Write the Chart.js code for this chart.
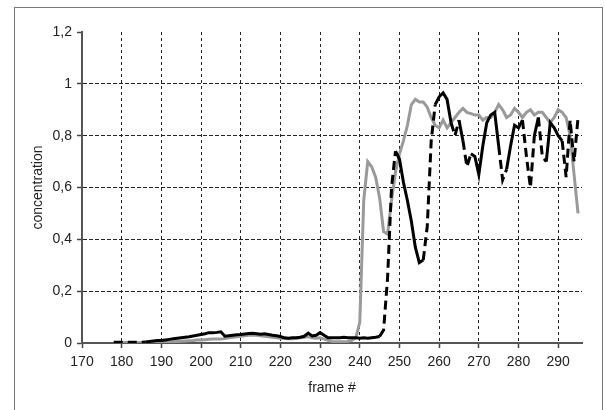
<!DOCTYPE html>
<html>
<head>
<meta charset="utf-8">
<script src="https://cdn.jsdelivr.net/npm/chart.js@4.4.0/dist/chart.umd.min.js"></script>
<style>
    html, body { margin: 0; padding: 0; background: #fff; }
    #frame { position: absolute; left: 14px; top: 7px; width: 587px; height: 420px; border: 1px solid #777; }
    #wrap { position: absolute; left: 0; top: 0; width: 605px; height: 410px; }
</style>
</head>
<body>
<div id="frame"></div>
<div id="wrap"><canvas id="myChart" width="605" height="410"></canvas></div>
<script>
// frame numbers (x axis)
const frames = [
    178, 179, 180, 181, 182, 183, 184, 185, 186, 187, 188, 189,
    190, 191, 192, 193, 194, 195, 196, 197, 198, 199,
    200, 201, 202, 203, 204, 205, 206, 207, 208, 209,
    210, 211, 212, 213, 214, 215, 216, 217, 218, 219,
    220, 221, 222, 223, 224, 225, 226, 227, 228, 229,
    230, 231, 232, 233, 234, 235, 236, 237, 238, 239,
    240, 241, 242, 243, 244, 245, 246, 247, 248, 249,
    250, 251, 252, 253, 254, 255, 256, 257, 258, 259,
    260, 261, 262, 263, 264, 265, 266, 267, 268, 269,
    270, 271, 272, 273, 274, 275, 276, 277, 278, 279,
    280, 281, 282, 283, 284, 285, 286, 287, 288, 289,
    290, 291, 292, 293, 294, 295
];

// black curve
const blackValues = [
    0.003, 0.003, 0.003, 0.003, 0.003, 0.003, 0.003, 0.003, 0.004, 0.006, 0.008, 0.01,
    0.01, 0.012, 0.014, 0.016, 0.018, 0.02, 0.022, 0.024, 0.027, 0.03,
    0.033, 0.036, 0.04, 0.04, 0.041, 0.043, 0.026, 0.028, 0.03, 0.032,
    0.033, 0.035, 0.037, 0.038, 0.036, 0.034, 0.036, 0.033, 0.03, 0.028,
    0.025, 0.02, 0.018, 0.02, 0.02, 0.022, 0.026, 0.038, 0.027, 0.03,
    0.04, 0.03, 0.02, 0.02, 0.02, 0.02, 0.022, 0.02, 0.02, 0.02,
    0.018, 0.02, 0.018, 0.02, 0.022, 0.025, 0.05, 0.25, 0.6, 0.74,
    0.71, 0.62, 0.55, 0.47, 0.37, 0.31, 0.32, 0.45, 0.78, 0.92,
    0.95, 0.965, 0.94, 0.85, 0.8, 0.86, 0.78, 0.68, 0.73, 0.72,
    0.65, 0.76, 0.85, 0.88, 0.89, 0.76, 0.63, 0.67, 0.76, 0.84,
    0.83, 0.86, 0.72, 0.6, 0.8, 0.87, 0.72, 0.7, 0.85, 0.83,
    0.8, 0.78, 0.64, 0.86, 0.7, 0.87
];

// grey curve
const greyValues = [
    0.002, 0.002, 0.002, 0.002, 0.002, 0.002, 0.002, 0.002, 0.002, 0.002, 0.002, 0.002,
    0.002, 0.003, 0.004, 0.005, 0.006, 0.007, 0.008, 0.009, 0.01, 0.012,
    0.012, 0.013, 0.014, 0.015, 0.015, 0.015, 0.017, 0.02, 0.022, 0.024,
    0.026, 0.028, 0.03, 0.03, 0.03, 0.028, 0.026, 0.024, 0.022, 0.02,
    0.018, 0.017, 0.016, 0.016, 0.018, 0.02, 0.022, 0.025, 0.02, 0.018,
    0.02, 0.015, 0.01, 0.006, 0.005, 0.005, 0.005, 0.006, 0.01, 0.02,
    0.08, 0.55, 0.70, 0.68, 0.64, 0.56, 0.43, 0.42, 0.55, 0.66,
    0.73, 0.78, 0.84, 0.92, 0.94, 0.93, 0.93, 0.91, 0.87, 0.84,
    0.83, 0.86, 0.83, 0.85, 0.87, 0.89, 0.905, 0.89, 0.885, 0.88,
    0.88, 0.86, 0.87, 0.87, 0.89, 0.92, 0.9, 0.87, 0.88, 0.905,
    0.89, 0.87, 0.89, 0.9, 0.88, 0.89, 0.89, 0.87, 0.85, 0.87,
    0.9, 0.89, 0.87, 0.8, 0.65, 0.5
];

// stretches of the black curve drawn dashed
const dashedRanges = [[178, 186], [245, 249], [256, 259], [263, 265], [266, 268], [275, 277], [281, 284], [285, 287], [291, 295]];

const fontFamily = '"Liberation Sans", Arial, sans-serif';
const textColor = '#222';

function isDashed(x) {
    return dashedRanges.some(r => x >= r[0] && x < r[1]);
}

const ctx = document.getElementById('myChart').getContext('2d');

new Chart(ctx, {
    type: 'line',
    data: {
        datasets: [
            {
                data: frames.map((f, i) => ({ x: f, y: blackValues[i] })),
                borderColor: '#000',
                borderWidth: 3,
                segment: {
                    borderDash: c => isDashed(c.p0.parsed.x) ? [9, 5] : undefined
                }
            },
            {
                data: frames.map((f, i) => ({ x: f, y: greyValues[i] })),
                borderColor: '#9a9a9a',
                borderWidth: 3
            }
        ]
    },
    options: {
        responsive: false,
        animation: false,
        layout: { padding: { left: 0, top: 32, right: 23, bottom: 0 } },
        elements: { point: { radius: 0 }, line: { tension: 0 } },
        plugins: { legend: { display: false }, tooltip: { enabled: false } },
        scales: {
            x: {
                type: 'linear',
                min: 170,
                max: 296,
                afterFit: s => { s.height = 67; },
                ticks: {
                    stepSize: 10,
                    includeBounds: false,
                    maxRotation: 0,
                    padding: 6,
                    color: textColor,
                    font: { family: fontFamily, size: 14 }
                },
                grid: {
                    color: c => c.tick && c.tick.value === 170 ? 'transparent' : '#222',
                    lineWidth: 1,
                    tickLength: 5,
                    tickColor: '#444',
                    tickWidth: 1.5
                },
                border: { display: true, color: '#555', width: 2, dash: [3, 3] },
                title: {
                    display: true,
                    text: 'frame #',
                    color: textColor,
                    font: { family: fontFamily, size: 14 },
                    padding: { top: 4, bottom: 13 }
                }
            },
            y: {
                min: 0,
                max: 1.2,
                afterFit: s => { s.width = 82; },
                ticks: {
                    stepSize: 0.2,
                    padding: 5,
                    color: textColor,
                    font: { family: fontFamily, size: 14 },
                    callback: v => Number(v.toFixed(1)).toString().replace('.', ',')
                },
                grid: {
                    color: c => c.tick && (c.tick.value > 1.1 || c.tick.value === 0) ? 'transparent' : '#222',
                    lineWidth: 1,
                    tickLength: 5,
                    tickColor: '#444',
                    tickWidth: 1.5
                },
                border: { display: true, color: '#555', width: 2, dash: [4, 2] },
                title: {
                    display: true,
                    text: 'concentration',
                    color: textColor,
                    font: { family: fontFamily, size: 14 },
                    padding: { top: 30, bottom: 0 }
                }
            }
        }
    }
});
</script>
</body>
</html>
